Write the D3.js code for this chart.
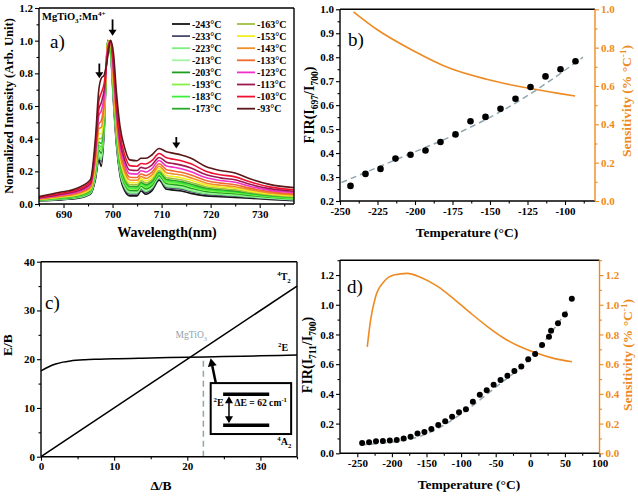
<!DOCTYPE html>
<html><head><meta charset="utf-8">
<script src="https://cdn.jsdelivr.net/npm/d3@7"></script>
<style>body{margin:0;background:#fff}svg{display:block}</style>
</head><body><svg id="c" width="638" height="497"></svg>
<script>
// ---------------- DATA ----------------
// Panel a: wavelength grid (nm) and normalized spectra
const wavelengths = [685,689,693,695.5,696.5,697.2,697.7,698.3,699,699.6,700.2,700.8,701.5,702.5,703.5,705,705.8,706.8,708,709.5,711,712.5,714,716,719,722,725,728,732,737];
const tempLabels = ["-243°C","-233°C","-223°C","-213°C","-203°C","-193°C","-183°C","-173°C","-163°C","-153°C","-143°C","-133°C","-123°C","-113°C","-103°C","-93°C"];
const seriesColors = ["#151515","#4a4a6e","#7cf07c","#a2f5a2","#1e9e1e","#86f046","#3cf03c","#2aa82a","#a0c040","#f0f020","#f0902a","#f06a30","#f030c8","#a01850","#f01030","#5a1818"];
const spec_m243 = [0.02,0.025,0.035,0.06,0.15,0.27,0.23,0.45,1.0,0.92,0.62,0.36,0.18,0.08,0.05,0.05,0.08,0.06,0.08,0.145,0.09,0.085,0.08,0.065,0.05,0.045,0.04,0.035,0.028,0.02];
const spec_m233 = [0.021,0.027,0.038,0.065,0.16,0.29,0.26,0.47,1.0,0.93,0.64,0.38,0.195,0.093,0.061,0.061,0.09,0.071,0.091,0.155,0.10,0.096,0.091,0.076,0.059,0.053,0.048,0.041,0.033,0.024];
const spec_m223 = [0.022,0.029,0.040,0.067,0.17,0.30,0.27,0.48,1.0,0.93,0.64,0.39,0.20,0.101,0.068,0.067,0.096,0.078,0.098,0.161,0.108,0.103,0.098,0.082,0.064,0.058,0.052,0.045,0.035,0.026];
const spec_m213 = [0.023,0.030,0.043,0.071,0.18,0.32,0.29,0.49,1.0,0.94,0.66,0.40,0.216,0.111,0.076,0.076,0.104,0.086,0.106,0.168,0.118,0.112,0.106,0.091,0.072,0.064,0.058,0.049,0.039,0.030];
const spec_m203 = [0.024,0.032,0.045,0.074,0.19,0.33,0.31,0.50,1.0,0.95,0.67,0.41,0.225,0.119,0.083,0.082,0.11,0.093,0.113,0.174,0.125,0.119,0.113,0.097,0.077,0.069,0.063,0.053,0.042,0.032];
const spec_m193 = [0.025,0.034,0.047,0.077,0.20,0.35,0.33,0.51,1.0,0.96,0.68,0.42,0.237,0.129,0.092,0.091,0.118,0.102,0.122,0.182,0.134,0.128,0.122,0.106,0.084,0.075,0.069,0.058,0.045,0.035];
const spec_m183 = [0.026,0.035,0.049,0.080,0.21,0.36,0.35,0.52,1.0,0.97,0.69,0.43,0.246,0.137,0.098,0.097,0.124,0.108,0.128,0.188,0.141,0.135,0.128,0.112,0.090,0.080,0.073,0.061,0.048,0.038];
const spec_m173 = [0.027,0.037,0.052,0.083,0.22,0.38,0.37,0.54,1.0,0.98,0.70,0.44,0.258,0.148,0.107,0.106,0.132,0.117,0.137,0.196,0.15,0.144,0.137,0.121,0.097,0.087,0.079,0.066,0.052,0.041];
const spec_m163 = [0.028,0.039,0.055,0.088,0.23,0.40,0.40,0.56,0.99,1.0,0.71,0.46,0.273,0.161,0.118,0.117,0.142,0.128,0.148,0.205,0.161,0.155,0.148,0.132,0.106,0.095,0.087,0.072,0.057,0.045];
const spec_m153 = [0.029,0.042,0.059,0.093,0.24,0.43,0.43,0.58,0.98,1.0,0.73,0.48,0.291,0.176,0.131,0.13,0.154,0.141,0.161,0.217,0.175,0.168,0.161,0.145,0.117,0.104,0.096,0.079,0.062,0.050];
const spec_m143 = [0.031,0.045,0.064,0.10,0.26,0.46,0.47,0.60,0.97,1.0,0.75,0.50,0.312,0.194,0.147,0.145,0.168,0.157,0.177,0.231,0.191,0.184,0.177,0.160,0.129,0.115,0.106,0.088,0.068,0.055];
const spec_m133 = [0.033,0.048,0.069,0.107,0.28,0.49,0.51,0.63,0.96,1.0,0.78,0.53,0.336,0.215,0.164,0.162,0.184,0.174,0.194,0.246,0.21,0.202,0.194,0.177,0.144,0.128,0.118,0.097,0.076,0.062];
const spec_m123 = [0.036,0.053,0.075,0.116,0.31,0.54,0.57,0.66,0.95,1.0,0.81,0.56,0.366,0.241,0.186,0.183,0.204,0.196,0.216,0.266,0.233,0.225,0.216,0.198,0.162,0.144,0.133,0.109,0.085,0.070];
const spec_m113 = [0.038,0.057,0.082,0.125,0.33,0.58,0.62,0.70,0.93,1.0,0.84,0.59,0.396,0.267,0.208,0.205,0.224,0.218,0.238,0.285,0.256,0.247,0.238,0.22,0.18,0.160,0.148,0.121,0.094,0.078];
const spec_m103 = [0.041,0.063,0.090,0.136,0.36,0.63,0.68,0.74,0.92,1.0,0.87,0.63,0.432,0.298,0.235,0.231,0.248,0.245,0.265,0.309,0.283,0.274,0.265,0.246,0.201,0.179,0.166,0.136,0.105,0.087];
const spec_m93  = [0.045,0.07,0.10,0.15,0.40,0.70,0.77,0.79,0.90,1.0,0.92,0.68,0.48,0.34,0.27,0.265,0.28,0.28,0.30,0.34,0.32,0.31,0.30,0.28,0.23,0.205,0.19,0.155,0.12,0.10];
const spectra = [spec_m243,spec_m233,spec_m223,spec_m213,spec_m203,spec_m193,spec_m183,spec_m173,spec_m163,spec_m153,spec_m143,spec_m133,spec_m123,spec_m113,spec_m103,spec_m93];

// Panel b
const tempB = [-243,-233,-223,-213,-203,-193,-183,-173,-163,-153,-143,-133,-123,-113,-103,-93];
const firB  = [0.263,0.313,0.334,0.377,0.393,0.411,0.446,0.478,0.533,0.551,0.585,0.627,0.676,0.720,0.750,0.783];
const fitBT = [-249,-208,-174,-130,-88];
const fitBV = [0.277,0.385,0.475,0.62,0.80];
const sensBT = [-241,-225.6,-201.1,-176.7,-152.2,-127.8,-103.3,-93.3];
const sensBV = [0.987,0.896,0.784,0.692,0.635,0.593,0.56,0.548];

// Panel c (Tanabe-Sugano)
const cDelta = [0,1,2,3,4,6,8,10,15,20,25,30,35];
const c2E    = [17.6,18.4,19.0,19.4,19.65,19.9,20.0,20.1,20.25,20.4,20.55,20.7,20.85];
const cT2x = [0,35];
const cT2y = [0,35];
const cMgTiO3Delta = 22.2;

// Panel d
const tempD = [-243,-233,-223,-213,-203,-193,-183,-173,-163,-153,-143,-133,-123,-113,-103,-93,-83,-73,-63,-53,-43,-33,-23,-13,-3,7,17,27,30,40,50,60];
const firD  = [0.069,0.074,0.081,0.083,0.087,0.09,0.10,0.112,0.134,0.143,0.164,0.19,0.215,0.246,0.276,0.296,0.347,0.394,0.424,0.462,0.493,0.522,0.554,0.585,0.633,0.668,0.729,0.785,0.825,0.875,0.935,1.04];
const fitDT = [-245,-200,-150,-100,-50,0,25,53];
const fitDV = [0.058,0.075,0.13,0.265,0.445,0.64,0.78,0.96];
const sensDT = [-235.6,-230.8,-223.6,-211.6,-197.2,-177.9,-158.7,-134.6,-110.6,-86.5,-62.4,-38.5,-14.4,9.7,33.7,60.2];
const sensDV = [0.717,0.897,1.054,1.155,1.20,1.211,1.185,1.125,1.04,0.945,0.855,0.776,0.717,0.673,0.639,0.616];

// ---------------- DRAW ----------------
const FONT = "'Liberation Serif','DejaVu Serif',serif";
const ORANGE = "#ee8a22";
const FITC = "#90a6ae";
const svg = d3.select("#c").attr("font-family", FONT);

function rich(g, x, y, parts, fs, opts = {}) {
  const t = g.append("text").attr("x", x).attr("y", y)
    .attr("font-size", fs).attr("font-weight", opts.weight || "bold")
    .attr("fill", opts.fill || "#000").attr("text-anchor", opts.anchor || "start");
  if (opts.rotate) t.attr("transform", `rotate(${opts.rotate},${x},${y})`);
  let shift = 0;
  parts.forEach(([s, k]) => {
    const target = k === "sub" ? 0.3 : k === "sup" ? -0.4 : 0;
    const ts = t.append("tspan").text(s);
    const dy = (target - shift) * fs;
    if (dy) ts.attr("dy", dy.toFixed(2));
    if (k !== "n") ts.attr("font-size", fs * 0.68);
    shift = target;
  });
  return t;
}

function addAxis(orient, scale, major, minor, fmt, color, translate) {
  const mk = {left: d3.axisLeft, right: d3.axisRight, bottom: d3.axisBottom}[orient];
  const a = svg.append("g").attr("transform", translate)
    .call(mk(scale).tickValues(major).tickFormat(fmt).tickSize(4).tickPadding(2));
  const m = svg.append("g").attr("transform", translate)
    .call(mk(scale).tickValues(minor).tickFormat("").tickSize(2.5));
  [a, m].forEach(s => {
    s.select(".domain").remove();
    s.attr("font-family", null).attr("font-size", null);
    s.selectAll("line").attr("stroke", color).attr("stroke-width", 1.1);
    s.selectAll("text").attr("fill", color).style("font-size", "11px")
      .style("font-weight", "bold").style("font-family", FONT);
  });
}
function frame(x0, x1, y0, y1, rightColor) {
  svg.append("line").attr("x1", x0).attr("x2", x1).attr("y1", y0).attr("y2", y0).attr("stroke", "#000").attr("stroke-width", 1.4);
  svg.append("line").attr("x1", x0).attr("x2", x1).attr("y1", y1).attr("y2", y1).attr("stroke", "#000").attr("stroke-width", 1.4);
  svg.append("line").attr("x1", x0).attr("x2", x0).attr("y1", y0).attr("y2", y1).attr("stroke", "#000").attr("stroke-width", 1.4);
  svg.append("line").attr("x1", x1).attr("x2", x1).attr("y1", y0).attr("y2", y1).attr("stroke", rightColor).attr("stroke-width", 1.4);
}
function rng(a, b, s) { const r = []; for (let v = a; v <= b + 1e-9; v += s) r.push(+v.toFixed(4)); return r; }
const f1 = d3.format(".1f");
const fint = d => String(d);

// ===== Panel a =====
const xA = d3.scaleLinear([685, 737], [39, 294]);
const yA = d3.scaleLinear([0, 1.2], [204, 8]);
svg.append("clipPath").attr("id", "clipA").append("rect").attr("x", 39).attr("y", 8).attr("width", 255).attr("height", 196);
const lineA = d3.line().x((d, i) => xA(wavelengths[i])).y(d => yA(d)).curve(d3.curveMonotoneX);
const gA = svg.append("g").attr("clip-path", "url(#clipA)");
spectra.forEach((s, k) => {
  gA.append("path").attr("d", lineA(s)).attr("fill", "none").attr("stroke", seriesColors[k]).attr("stroke-width", 1.6);
});
frame(39, 294, 8, 204, "#000");
addAxis("bottom", xA, [690, 700, 710, 720, 730], [685, 695, 705, 715, 725, 735], d => d, "#000", "translate(0,204)");
addAxis("left", yA, rng(0, 1.2, 0.2), rng(0.1, 1.1, 0.2), f1, "#000", "translate(39,0)");
function downArrow(x, y1, y2) {
  svg.append("line").attr("x1", x).attr("x2", x).attr("y1", y1).attr("y2", y2 - 5).attr("stroke", "#000").attr("stroke-width", 1.8);
  svg.append("path").attr("d", `M${x - 4},${y2 - 6}L${x + 4},${y2 - 6}L${x},${y2}Z`).attr("fill", "#000");
}
downArrow(xA(697.3), yA(0.86), yA(0.77));
downArrow(xA(700.0), yA(1.13), yA(1.03));
downArrow(xA(713.0), yA(0.41), yA(0.34));
rich(svg, 42, 20, [["MgTiO", "n"], ["3", "sub"], [":Mn", "n"], ["4+", "sup"]], 10.5);
svg.append("text").attr("x", 50).attr("y", 48).attr("font-size", 19).text("a)");
tempLabels.forEach((lab, i) => {
  const col = i < 8 ? 0 : 1, row = i % 8;
  const lx = col === 0 ? 172 : 237, ly = 24 + row * 12.1;
  svg.append("line").attr("x1", lx).attr("x2", lx + 18).attr("y1", ly).attr("y2", ly).attr("stroke", seriesColors[i]).attr("stroke-width", 1.8);
  svg.append("text").attr("x", lx + 20).attr("y", ly + 3.5).attr("font-size", 10).attr("font-weight", "bold").text(lab);
});
rich(svg, 13, 106, [["Normalized Intensity (Arb. Unit)", "n"]], 12.5, {rotate: -90, anchor: "middle"});
rich(svg, 167, 237, [["Wavelength(nm)", "n"]], 14, {anchor: "middle"});

// ===== Panel b =====
const xB = d3.scaleLinear([-250, -80], [340, 595]);
const yB = d3.scaleLinear([0.2, 1.0], [201, 9.3]);
const yB2 = d3.scaleLinear([0, 1.0], [201, 9.3]);
svg.append("path").attr("d", d3.line().x((d, i) => xB(fitBT[i])).y(d => yB(d)).curve(d3.curveMonotoneX)(fitBV))
  .attr("fill", "none").attr("stroke", FITC).attr("stroke-width", 1.5).attr("stroke-dasharray", "6,4");
svg.append("path").attr("d", d3.line().x((d, i) => xB(sensBT[i])).y(d => yB2(d)).curve(d3.curveMonotoneX)(sensBV))
  .attr("fill", "none").attr("stroke", ORANGE).attr("stroke-width", 1.6);
svg.selectAll(".dotB").data(firB).enter().append("circle").attr("cx", (d, i) => xB(tempB[i])).attr("cy", d => yB(d)).attr("r", 3.3).attr("fill", "#000");
frame(340, 595, 9.3, 201, ORANGE);
addAxis("bottom", xB, rng(-250, -100, 25), rng(-237.5, -87.5, 25), fint, "#000", "translate(0,201)");
addAxis("left", yB, rng(0.2, 1.0, 0.1), rng(0.25, 0.95, 0.1), f1, "#000", "translate(340,0)");
addAxis("right", yB2, rng(0, 1.0, 0.2), rng(0.1, 0.9, 0.2), f1, ORANGE, "translate(595,0)");
svg.append("text").attr("x", 348).attr("y", 46).attr("font-size", 19).text("b)");
rich(svg, 314, 105, [["FIR(I", "n"], ["697", "sub"], ["/I", "n"], ["700", "sub"], [")", "n"]], 14, {rotate: -90, anchor: "middle"});
rich(svg, 467, 237, [["Temperature (°C)", "n"]], 13.5, {anchor: "middle"});
rich(svg, 631, 101, [["Sensitivity (% °C", "n"], ["-1", "sup"], [")", "n"]], 13.5, {rotate: -90, anchor: "middle", fill: ORANGE});

// ===== Panel c =====
const xC = d3.scaleLinear([0, 35], [41, 297]);
const yC = d3.scaleLinear([0, 40], [456.7, 261.7]);
svg.append("path").attr("d", d3.line().x((d, i) => xC(cDelta[i])).y(d => yC(d)).curve(d3.curveMonotoneX)(c2E))
  .attr("fill", "none").attr("stroke", "#000").attr("stroke-width", 1.5);
svg.append("path").attr("d", d3.line().x((d, i) => xC(cT2x[i])).y(d => yC(d))(cT2y))
  .attr("fill", "none").attr("stroke", "#000").attr("stroke-width", 1.6);
svg.append("line").attr("x1", xC(cMgTiO3Delta)).attr("x2", xC(cMgTiO3Delta)).attr("y1", yC(0)).attr("y2", yC(20.45))
  .attr("stroke", FITC).attr("stroke-width", 1.5).attr("stroke-dasharray", "6,4");
frame(41, 297, 261.7, 456.7, "#000");
addAxis("bottom", xC, [0, 10, 20, 30], [5, 15, 25, 35], d => d, "#000", "translate(0,456.7)");
addAxis("left", yC, [0, 10, 20, 30, 40], [5, 15, 25, 35], d => d, "#000", "translate(41,0)");
svg.append("text").attr("x", 45).attr("y", 309).attr("font-size", 19).text("c)");
rich(svg, xC(32.3), yC(36.3), [["4", "sup"], ["T", "n"], ["2", "sub"]], 10);
rich(svg, xC(32.4), yC(21.6), [["2", "sup"], ["E", "n"]], 10);
rich(svg, xC(32.3), yC(2.4), [["4", "sup"], ["A", "n"], ["2", "sub"]], 10);
rich(svg, xC(18.4), yC(24.4), [["MgTiO", "n"], ["3", "sub"]], 9.5, {weight: "normal", fill: "#8fa3ad"});
svg.append("rect").attr("x", xC(23.2)).attr("y", yC(15.1)).attr("width", xC(34.2) - xC(23.2)).attr("height", yC(4.65) - yC(15.1))
  .attr("fill", "#fff").attr("stroke", "#000").attr("stroke-width", 2);
svg.append("line").attr("x1", xC(24.9)).attr("x2", xC(31.2)).attr("y1", yC(12.8)).attr("y2", yC(12.8)).attr("stroke", "#000").attr("stroke-width", 3.5);
svg.append("line").attr("x1", xC(24.9)).attr("x2", xC(31.2)).attr("y1", yC(6.44)).attr("y2", yC(6.44)).attr("stroke", "#000").attr("stroke-width", 3.5);
{
  const ax = xC(25.7), ya = yC(12.8) + 2, yb = yC(6.44) - 2;
  svg.append("line").attr("x1", ax).attr("x2", ax).attr("y1", ya + 6).attr("y2", yb - 6).attr("stroke", "#000").attr("stroke-width", 1.5);
  svg.append("path").attr("d", `M${ax - 4},${ya + 7}L${ax + 4},${ya + 7}L${ax},${ya}Z`).attr("fill", "#000");
  svg.append("path").attr("d", `M${ax - 4},${yb - 7}L${ax + 4},${yb - 7}L${ax},${yb}Z`).attr("fill", "#000");
}
rich(svg, xC(23.6), yC(10.4), [["2", "sup"], ["E", "n"]], 10);
rich(svg, xC(26.45), yC(10.4), [["ΔE = 62 cm", "n"], ["-1", "sup"]], 9.6);
{
  const x1 = xC(23.9), y1 = yC(15.1), x2 = xC(23.2), y2 = yC(20.2);
  const ang = Math.atan2(y2 - y1, x2 - x1);
  const L = 8, W = 4.5;
  const bx = x2 - L * Math.cos(ang), by = y2 - L * Math.sin(ang);
  svg.append("line").attr("x1", x1).attr("y1", y1).attr("x2", bx).attr("y2", by).attr("stroke", "#000").attr("stroke-width", 2.5);
  svg.append("path").attr("d", `M${x2},${y2}L${bx + W * Math.sin(ang)},${by - W * Math.cos(ang)}L${bx - W * Math.sin(ang)},${by + W * Math.cos(ang)}Z`).attr("fill", "#000");
}
rich(svg, 12, 345, [["E/B", "n"]], 13.5, {rotate: -90, anchor: "middle"});
rich(svg, 161, 490, [["Δ/B", "n"]], 13.5, {anchor: "middle"});

// ===== Panel d =====
const xD = d3.scaleLinear([-275, 100], [340, 599.5]);
const yD = d3.scaleLinear([0, 1.3], [453.3, 260.2]);
svg.append("path").attr("d", d3.line().x((d, i) => xD(fitDT[i])).y(d => yD(d)).curve(d3.curveMonotoneX)(fitDV))
  .attr("fill", "none").attr("stroke", FITC).attr("stroke-width", 1.5).attr("stroke-dasharray", "6,4");
svg.append("path").attr("d", d3.line().x((d, i) => xD(sensDT[i])).y(d => yD(d)).curve(d3.curveMonotoneX)(sensDV))
  .attr("fill", "none").attr("stroke", ORANGE).attr("stroke-width", 1.6);
svg.selectAll(".dotD").data(firD).enter().append("circle").attr("cx", (d, i) => xD(tempD[i])).attr("cy", d => yD(d)).attr("r", 3).attr("fill", "#000");
frame(340, 599.5, 260.2, 453.3, ORANGE);
addAxis("bottom", xD, rng(-250, 100, 50), rng(-225, 75, 50), fint, "#000", "translate(0,453.3)");
addAxis("left", yD, rng(0, 1.2, 0.2), rng(0.1, 1.3, 0.2), f1, "#000", "translate(340,0)");
addAxis("right", yD, rng(0, 1.2, 0.2), rng(0.1, 1.3, 0.2), f1, ORANGE, "translate(599.5,0)");
svg.append("text").attr("x", 347).attr("y", 293).attr("font-size", 19).text("d)");
rich(svg, 312, 355, [["FIR(I", "n"], ["711", "sub"], ["/I", "n"], ["700", "sub"], [")", "n"]], 14, {rotate: -90, anchor: "middle"});
rich(svg, 469, 489, [["Temperature (°C)", "n"]], 13.5, {anchor: "middle"});
rich(svg, 632, 355, [["Sensitivity (% °C", "n"], ["-1", "sup"], [")", "n"]], 13.5, {rotate: -90, anchor: "middle", fill: ORANGE});
</script></body></html>
